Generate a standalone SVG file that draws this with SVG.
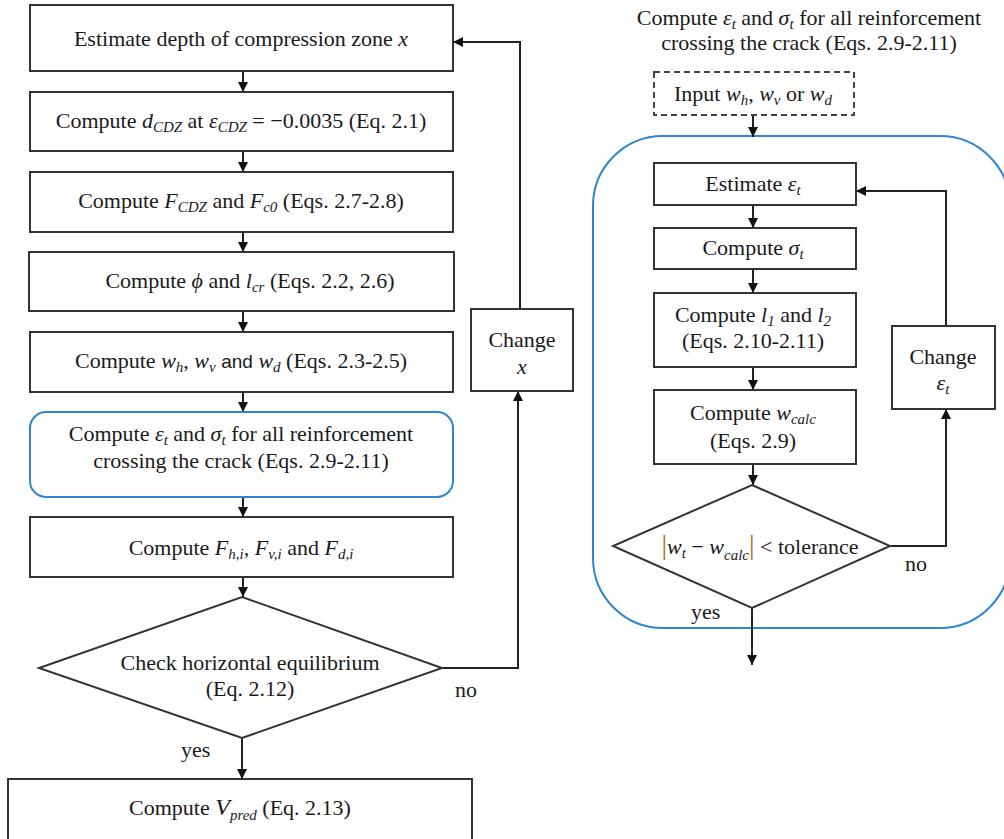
<svg xmlns="http://www.w3.org/2000/svg" width="1004" height="839" viewBox="0 0 1004 839">
<defs>
<marker id="ah" markerUnits="userSpaceOnUse" markerWidth="11" markerHeight="11" refX="10" refY="5" orient="auto">
<path d="M0,0 L10,5 L0,10 z" fill="#111"/>
</marker>
<style>
.box{fill:#fff;stroke:#333;stroke-width:2}
.blue{fill:none;stroke:#2f86cf;stroke-width:2}
.dash{fill:#fff;stroke:#444;stroke-width:2;stroke-dasharray:6 4}
.c{fill:none;stroke:#222;stroke-width:2}
.ca{fill:none;stroke:#222;stroke-width:2;marker-end:url(#ah)}
text{font-family:"Liberation Serif","Times New Roman",serif;font-size:22px;fill:#1a1a1a}
.m{font-style:italic}
.s{font-size:15px;font-style:italic}
.sans{font-family:"Liberation Sans",Arial,sans-serif;font-size:19px}
.bar{fill:#b5651d}
</style>
</defs>
<rect x="0" y="0" width="1004" height="839" fill="#fff"/>

<g id="blue-frame"><rect class="blue" x="593" y="136" width="417" height="492" rx="70"/></g>

<g id="connectors">
<line class="ca" x1="243" y1="71" x2="243" y2="92"/>
<line class="ca" x1="243" y1="151" x2="243" y2="172"/>
<line class="ca" x1="243" y1="232" x2="243" y2="252"/>
<line class="ca" x1="243" y1="311" x2="243" y2="332"/>
<line class="ca" x1="243" y1="392" x2="243" y2="412"/>
<line class="ca" x1="243" y1="497" x2="243" y2="517"/>
<line class="ca" x1="243" y1="577" x2="243" y2="597"/>
<line class="ca" x1="242" y1="738" x2="242" y2="779"/>
<polyline class="ca" points="442,668 518,668 518,391"/>
<polyline class="ca" points="520,309 520,42 453,42"/>
<line class="ca" x1="753" y1="115" x2="753" y2="137"/>
<line class="ca" x1="753" y1="205" x2="753" y2="228"/>
<line class="ca" x1="753" y1="269" x2="753" y2="293"/>
<line class="ca" x1="753" y1="367" x2="753" y2="390"/>
<line class="ca" x1="753" y1="464" x2="753" y2="485"/>
<line class="ca" x1="752" y1="608" x2="752" y2="665"/>
<polyline class="ca" points="890,546 946,546 946,409"/>
<polyline class="ca" points="946,326 946,191 856,191"/>
</g>

<g id="n1"><rect class="box" x="30" y="5" width="423" height="66"/>
<text x="241" y="46" text-anchor="middle">Estimate depth of compression zone <tspan class="m">x</tspan></text></g>

<g id="n2"><rect class="box" x="30" y="92" width="423" height="59"/>
<text x="241" y="128" text-anchor="middle">Compute <tspan class="m">d</tspan><tspan class="s" dy="4">CDZ</tspan><tspan dy="-4"> at </tspan><tspan class="m">ε</tspan><tspan class="s" dy="4">CDZ</tspan><tspan dy="-4"> = −0.0035 (Eq. 2.1)</tspan></text></g>

<g id="n3"><rect class="box" x="30" y="172" width="423" height="60"/>
<text x="241" y="208" text-anchor="middle">Compute <tspan class="m">F</tspan><tspan class="s" dy="4">CDZ</tspan><tspan dy="-4"> and </tspan><tspan class="m">F</tspan><tspan class="s" dy="4">c0</tspan><tspan dy="-4"> (Eqs. 2.7-2.8)</tspan></text></g>

<g id="n4"><rect class="box" x="29" y="252" width="425" height="59"/>
<text x="250" y="288" text-anchor="middle">Compute <tspan class="m">ϕ</tspan> and <tspan class="m">l</tspan><tspan class="s" dy="4">cr</tspan><tspan dy="-4"> (Eqs. 2.2, 2.6)</tspan></text></g>

<g id="n5"><rect class="box" x="30" y="332" width="423" height="60"/>
<text x="241" y="368" text-anchor="middle">Compute <tspan class="m">w</tspan><tspan class="s" dy="4">h</tspan><tspan dy="-4">, </tspan><tspan class="m">w</tspan><tspan class="s" dy="4">v</tspan><tspan dy="-4"> </tspan><tspan class="sans">and</tspan> <tspan class="m">w</tspan><tspan class="s" dy="4">d</tspan><tspan dy="-4"> (Eqs. 2.3-2.5)</tspan></text></g>

<g id="n6"><rect class="blue" x="30" y="412" width="423" height="85" rx="16" fill="#fff"/>
<text x="241" y="441" text-anchor="middle">Compute <tspan class="m">ε</tspan><tspan class="s" dy="4">t</tspan><tspan dy="-4"> and </tspan><tspan class="m">σ</tspan><tspan class="s" dy="4">t</tspan><tspan dy="-4"> for all reinforcement</tspan></text>
<text x="241" y="468" text-anchor="middle">crossing the crack (Eqs. 2.9-2.11)</text></g>

<g id="n7"><rect class="box" x="30" y="517" width="423" height="60"/>
<text x="241" y="555" text-anchor="middle">Compute <tspan class="m">F</tspan><tspan class="s" dy="4">h,i</tspan><tspan dy="-4">, </tspan><tspan class="m">F</tspan><tspan class="s" dy="4">v,i</tspan><tspan dy="-4"> and </tspan><tspan class="m">F</tspan><tspan class="s" dy="4">d,i</tspan></text></g>

<g id="n8"><polygon class="box" points="242,597 442,668 242,738 39,668"/>
<text x="250" y="670" text-anchor="middle">Check horizontal equilibrium</text>
<text x="250" y="696" text-anchor="middle">(Eq. 2.12)</text></g>

<g id="n9"><rect class="box" x="8" y="779" width="464" height="70"/>
<text x="240" y="815" text-anchor="middle">Compute <tspan class="m" font-size="24">V</tspan><tspan class="s" dy="5">pred</tspan><tspan dy="-5"> (Eq. 2.13)</tspan></text></g>

<g id="n10"><rect class="box" x="471" y="309" width="102" height="82"/>
<text x="522" y="347" text-anchor="middle">Change</text>
<text x="522" y="374" text-anchor="middle" class="m">x</text></g>

<g id="labels-left">
<text x="455" y="697">no</text>
<text x="181" y="757">yes</text>
</g>

<g id="title-right">
<text x="809" y="25" text-anchor="middle">Compute <tspan class="m">ε</tspan><tspan class="s" dy="4">t</tspan><tspan dy="-4"> and </tspan><tspan class="m">σ</tspan><tspan class="s" dy="4">t</tspan><tspan dy="-4"> for all reinforcement</tspan></text>
<text x="809" y="50" text-anchor="middle">crossing the crack (Eqs. 2.9-2.11)</text>
</g>

<g id="r1"><rect class="dash" x="654" y="72" width="200" height="43"/>
<text x="753" y="101" text-anchor="middle">Input <tspan class="m">w</tspan><tspan class="s" dy="4">h</tspan><tspan dy="-4">, </tspan><tspan class="m">w</tspan><tspan class="s" dy="4">v</tspan><tspan dy="-4"> or </tspan><tspan class="m">w</tspan><tspan class="s" dy="4">d</tspan></text></g>

<g id="r2"><rect class="box" x="654" y="163" width="202" height="42"/>
<text x="753" y="191" text-anchor="middle">Estimate <tspan class="m">ε</tspan><tspan class="s" dy="4">t</tspan></text></g>

<g id="r3"><rect class="box" x="654" y="228" width="202" height="41"/>
<text x="753" y="255" text-anchor="middle">Compute <tspan class="m">σ</tspan><tspan class="s" dy="4">t</tspan></text></g>

<g id="r4"><rect class="box" x="654" y="293" width="202" height="74"/>
<text x="753" y="322" text-anchor="middle">Compute <tspan class="m">l</tspan><tspan class="s" font-style="normal" dy="4">1</tspan><tspan dy="-4"> and </tspan><tspan class="m">l</tspan><tspan class="s" font-style="normal" dy="4">2</tspan></text>
<text x="753" y="348" text-anchor="middle">(Eqs. 2.10-2.11)</text></g>

<g id="r5"><rect class="box" x="654" y="390" width="202" height="74"/>
<text x="753" y="420" text-anchor="middle">Compute <tspan class="m">w</tspan><tspan class="s" dy="4">calc</tspan></text>
<text x="753" y="448" text-anchor="middle">(Eqs. 2.9)</text></g>

<g id="r6"><polygon class="box" points="752,485 890,546 752,608 613,546"/>
<text x="760" y="554" text-anchor="middle"><tspan class="bar" font-size="28">|</tspan><tspan class="m">w</tspan><tspan class="s" dy="4">t</tspan><tspan dy="-4"> − </tspan><tspan class="m">w</tspan><tspan class="s" dy="6">calc</tspan><tspan class="bar" font-size="28" dy="-6">|</tspan> &lt; tolerance</text></g>

<g id="r7"><rect class="box" x="892" y="326" width="103" height="83"/>
<text x="943" y="364" text-anchor="middle">Change</text>
<text x="943" y="390" text-anchor="middle"><tspan class="m">ε</tspan><tspan class="s" dy="4">t</tspan></text></g>

<g id="labels-right">
<text x="905" y="571">no</text>
<text x="691" y="619">yes</text>
</g>
</svg>
